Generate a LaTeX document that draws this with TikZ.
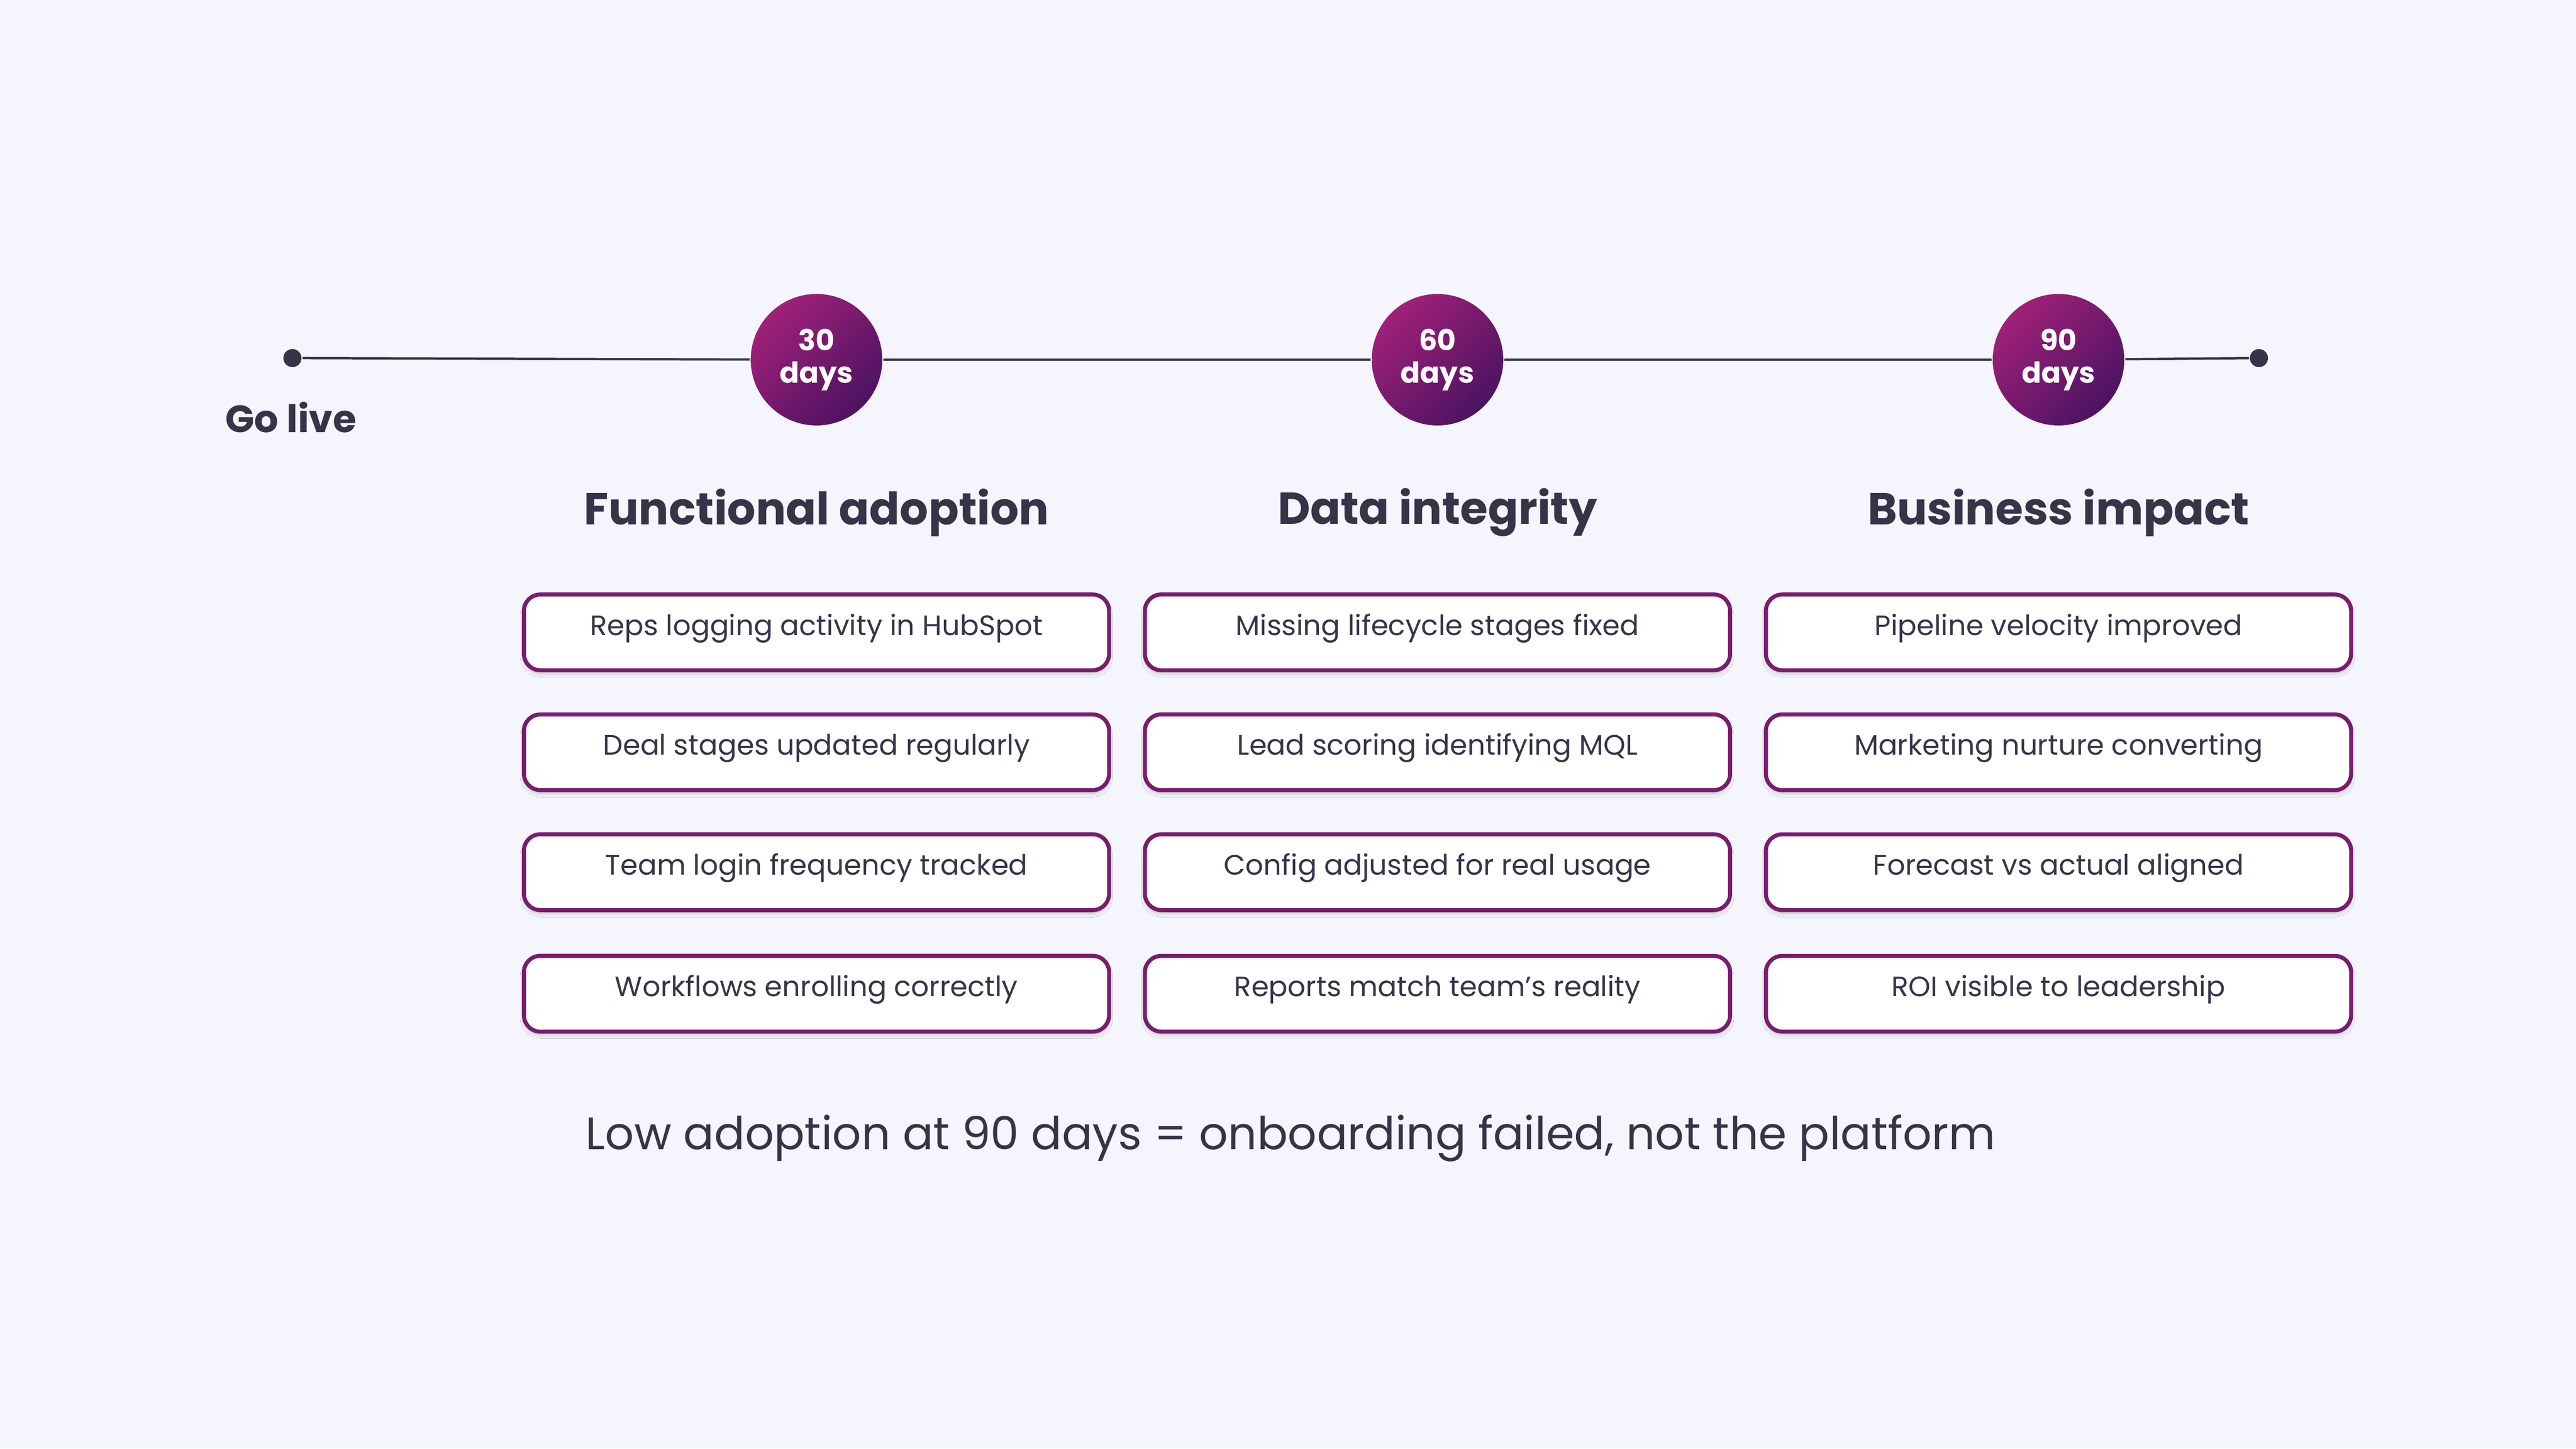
\documentclass[tikz,border=0pt]{standalone}
\usepackage{fontspec}
\setmainfont{Poppins}
\usetikzlibrary{shadings,shadows.blur}
\definecolor{bg}{HTML}{F5F6FD}
\definecolor{ink}{HTML}{363449}
\definecolor{plum}{HTML}{7A1C6E}
\definecolor{gA}{HTML}{A02179}
\definecolor{gB}{HTML}{4C1362}
\begin{document}
\begin{tikzpicture}[x=0.01cm,y=-0.01cm,
  item/.style={draw=plum,line width=0.7pt,rounded corners=0.1cm,fill=white,minimum width=3.56cm,minimum height=0.46cm,font=\fontsize{4.87}{6}\selectfont,text=ink,blur shadow={shadow xshift=0pt,shadow yshift=-0.6pt,shadow blur radius=0.6pt,shadow blur steps=4,shadow opacity=20}},
  mile/.style={circle,minimum size=0.8cm,inner sep=0pt,left color=gA,right color=gB,shading angle=45,text=white,font=\bfseries\fontsize{5}{5.6}\selectfont,align=center},
  head/.style={text=ink,font=\bfseries\fontsize{7.75}{9}\selectfont},
  dot/.style={circle,fill=ink,minimum size=0.11cm,inner sep=0pt}]
\fill[bg] (0,0) rectangle (1568,882);
\useasboundingbox (0,0) rectangle (1568,882);
\node[dot] (s) at (178,218) {};
\node[dot] (e) at (1375,218) {};
\node[mile] (m1) at (497,219) {30\\days};
\node[mile] (m2) at (875,219) {60\\days};
\node[mile] (m3) at (1253,219) {90\\days};
\draw[ink,line width=0.4pt] (s) -- (m1) (m1) -- (m2) (m2) -- (m3) (m3) -- (e);
\node[text=ink,font=\bfseries\fontsize{6.6}{8}\selectfont] (gl) at (177,254) {Go live};
\node[head] (h1) at (497,312) {Functional adoption};
\node[head] (h2) at (875,312) {Data integrity};
\node[head] (h3) at (1253,312) {Business impact};
\foreach \n/\x/\y/\t in {a1/497/385/Reps logging activity in HubSpot,a2/497/458/Deal stages updated regularly,a3/497/531/Team login frequency tracked,a4/497/605/Workflows enrolling correctly,b1/875/385/Missing lifecycle stages fixed,b2/875/458/Lead scoring identifying MQL,b3/875/531/Config adjusted for real usage,b4/875/605/Reports match team’s reality,c1/1253/385/Pipeline velocity improved,c2/1253/458/Marketing nurture converting,c3/1253/531/Forecast vs actual aligned,c4/1253/605/ROI visible to leadership}
  \node[item,text depth=0.5ex] (\n) at (\x,\y) {\t};
\node[text=ink,anchor=west,font=\fontsize{7.86}{10}\selectfont] (ft) at (344,693) {Low adoption at 90 days = onboarding failed, not the platform};
\end{tikzpicture}
\end{document}
